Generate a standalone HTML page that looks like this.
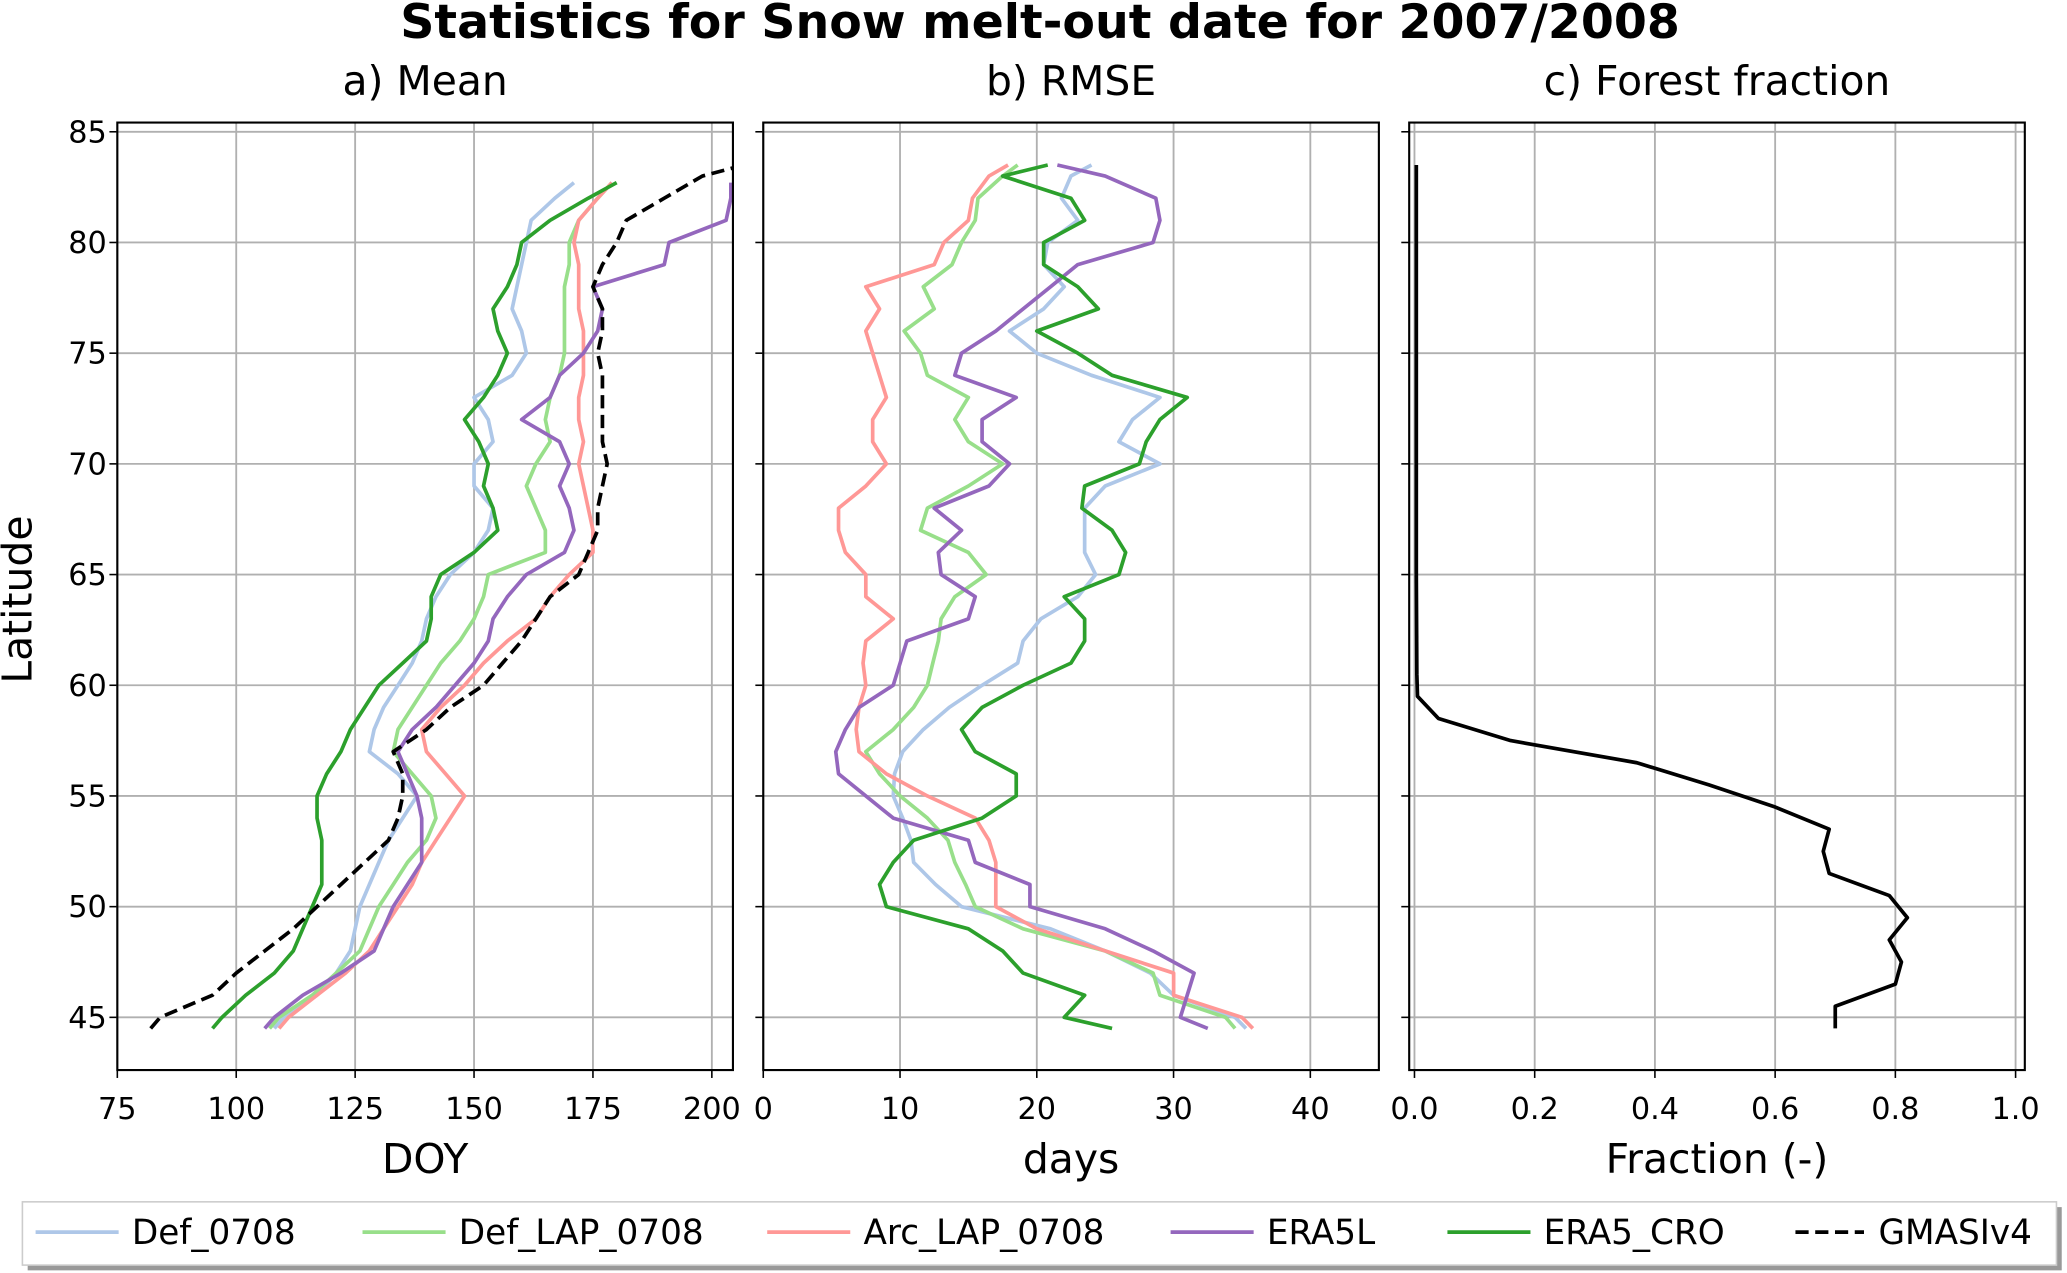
<!DOCTYPE html>
<html><head><meta charset="utf-8"><style>
html,body{margin:0;padding:0;background:#fff}
svg{display:block}
text{font-family:"DejaVu Sans","Liberation Sans",sans-serif;fill:#000}
</style></head><body>
<svg id="chart" width="2067" height="1273" viewBox="0 0 1568 966" preserveAspectRatio="none" xmlns="http://www.w3.org/2000/svg">
<text x="789" y="29" font-size="36" font-weight="bold" text-anchor="middle">Statistics for Snow melt-out date for 2007/2008</text>
<g id="g"></g>
</svg>
<script>
// ---- data ----
const latsA=[44.5,45,46,47,48,49,50,51,52,53,54,55,56,57,58,59,60,61,62,63,64,65,66,67,68,69,70,71,72,73,74,75,76,77,78,79,80,81,82,82.7];
const meanDef=[108,110,117,121,124,125,126,128,130,132,135,138,134,128,129,131,134,137,139,140,142,145,150,153,154,150,150,154,153,150,158,161,160,158,159,160,161,162,167,171];
const meanDefLAP=[107,109,116,121,126,128,130,133,136,140,142,141,137,133,134,137,140,143,147,150,152,153,165,165,163,161,163,166,165,166,168,169,169,169,169,170,170,172,176,179];
const meanArcLAP=[109,111,117,123,128,131,134,137,139,142,145,148,144,140,139,143,148,152,157,163,166,170,175,175,174,173,172,173,172,172,173,173,173,172,172,172,171,172,176,179];
const meanERA5L=[106,108,114,122,129,131,133,136,139,139,139,138,136,134,137,142,146,150,153,154,157,161,169,171,170,168,170,168,160,166,168,173,176,177,175,190,191,203,204,204];
const meanCRO=[95,97,102,108,112,114,116,118,118,118,117,117,119,122,124,127,130,135,140,141,141,143,150,155,154,152,153,151,148,152,155,157,155,154,157,159,160,166,174,180];
const latsG=[44.5,45,46,47,48,49,50,51,52,53,54,55,56,57,58,59,60,61,62,63,64,65,66,67,68,69,70,71,72,73,74,75,76,77,78,79,80,81,82,83,83.4];
const meanGMASI=[82,84,95,100,106,112,117,122,127,132,134,135,135,133,140,145,152,156,160,163,166,172,174,176,176,177,178,177,177,177,177,176,177,177,175,177,180,182,190,198,205];
const latsB=[44.5,45,46,47,48,49,50,51,52,53,54,55,56,57,58,59,60,61,62,63,64,65,66,67,68,69,70,71,72,73,74,75,76,77,78,79,80,81,82,83,83.5];
const rmseDef=[35.3,34.5,30,28.3,25,21,14.5,12.6,11,10.8,10.2,9.5,9.6,10.2,11.7,13.6,16,18.6,19,20.3,23,24.3,23.5,23.5,23.5,25,29,26,27,29,24,20,18,20.5,22,20.5,20.8,23,21.8,22.5,24];
const rmseDefLAP=[34.5,33.8,29,28.5,25,19,15.5,14.8,14,13.5,12,10,8.5,7.5,9.5,11,12,12.4,12.8,13,14,16.3,15,11.5,12,15,17.5,15,14,15,12,11.5,10.3,12.5,11.7,13.8,14.5,15.5,15.7,17.5,18.6];
const rmseArcLAP=[35.8,35,30,30,25,20,17,17,17,16.5,15.5,12,9,7,6.8,7,7.5,7.3,7.5,9.5,7.5,7.5,6,5.5,5.5,7.5,9,8,8,9,8.5,8,7.5,8.5,7.5,12.5,13.2,15,15.3,16.5,17.9];
const rmseERA5L=[32.5,30.5,31,31.5,28.5,25,19.5,19.5,15.5,15,9.5,7.5,5.5,5.3,6,7,9.5,10,10.5,15,15.5,13,12.8,14.5,12.5,16.5,18,16,16,18.5,14,14.5,17,19,21,23,28.5,29,28.7,25,21.5];
const rmseCRO=[25.5,22,23.5,19,17.5,15,9,8.5,9.5,11,16,18.5,18.5,15.5,14.5,16,19,22.5,23.5,23.5,22,26,26.5,25.5,23.3,23.5,27.5,28,29,31,25.5,23,20,24.5,23,20.5,20.5,23.5,22.5,17.5,20.8];
const latsC=[44.5,45.5,46.5,47.5,48.5,49.5,50.5,51.5,52.5,53.5,54.5,55.5,56.5,57.5,58.5,59.5,60.5,65,70,75,80,83.5];
const forest=[0.70,0.70,0.80,0.81,0.79,0.82,0.79,0.69,0.68,0.69,0.60,0.49,0.37,0.16,0.04,0.005,0.004,0.003,0.003,0.003,0.003,0.003];
const ticksA=[75,100,125,150,175,200];
const ticksB=[0,10,20,30,40];
const ticksC=[0,0.2,0.4,0.6,0.8,1.0];
const ticksC_lbl=["0.0","0.2","0.4","0.6","0.8","1.0"];
const ticksY=[45,50,55,60,65,70,75,80,85];

// ---- drawing ----
const NS="http://www.w3.org/2000/svg";
const G=document.getElementById('g');
function el(tag,attrs,parent){const e=document.createElementNS(NS,tag);for(const k in attrs)e.setAttribute(k,attrs[k]);(parent||G).appendChild(e);return e;}
const yTop=93,yBot=812;
const yS=lat=>100+(85-lat)*16.8;
function mkX(px0,v0,px1,v1){return v=>px0+(v-v0)*(px1-px0)/(v1-v0);}
const panels=[
 {name:'mean',x0:89,x1:556,sx:mkX(89,75,540,200),ticks:ticksA,lbls:ticksA.map(String),title:'a) Mean',xl:'DOY',ylab:true},
 {name:'rmse',x0:579,x1:1046,sx:mkX(579,0,994,40),ticks:ticksB,lbls:ticksB.map(String),title:'b) RMSE',xl:'days'},
 {name:'forest',x0:1069,x1:1536,sx:mkX(1073,0,1529,1),ticks:ticksC,lbls:ticksC_lbl,title:'c) Forest fraction',xl:'Fraction (-)'}
];
panels.forEach(p=>{
 const g=el('g',{});
 
 
 p.g=g;
 ticksY.forEach(t=>{
  const y=yS(t);
  const l=el('line',{x1:p.x0,x2:p.x1,y1:y,y2:y,stroke:'#b0b0b0','stroke-width':1.4},g);
  
  
  el('line',{x1:p.x0-6,x2:p.x0,y1:y,y2:y,stroke:'#000','stroke-width':1.2},g);
  if(p.ylab){const tx=el('text',{x:p.x0-8,y:y+8,'font-size':23,'text-anchor':'end'},g);tx.textContent=t;
   
   }
 });
 p.ticks.forEach((t,i)=>{
  const x=p.sx(t);
  const l=el('line',{x1:x,x2:x,y1:yTop,y2:yBot,stroke:'#b0b0b0','stroke-width':1.4},g);
  
  
  el('line',{x1:x,x2:x,y1:yBot,y2:yBot+6,stroke:'#000','stroke-width':1.2},g);
  const tx=el('text',{x:x,y:yBot+37,'font-size':23,'text-anchor':'middle'},g);tx.textContent=p.lbls[i];
  
  
 });
 const st=el('text',{x:(p.x0+p.x1)/2,y:72,'font-size':31,'text-anchor':'middle'},g);st.textContent=p.title;
 
 
 const xl=el('text',{x:(p.x0+p.x1)/2,y:890,'font-size':31,'text-anchor':'middle'},g);xl.textContent=p.xl;
 
 
 const cp=el('clipPath',{id:'c'+p.name},g);
 el('rect',{x:p.x0,y:yTop,width:p.x1-p.x0,height:yBot-yTop},cp);
});
function series(p,lats,vals,color,name,dash){
 const d=lats.map((la,i)=>(i?'L':'M')+p.sx(vals[i]).toFixed(1)+','+yS(la).toFixed(1)).join('');
 const a={d:d,fill:'none',stroke:color,'stroke-width':2.8,'clip-path':'url(#c'+p.name+')','stroke-linejoin':'round'};
 if(dash)a['stroke-dasharray']=dash;
 const path=el('path',a,p.g);
 
 
}
const C={def:'#aec7e8',lap:'#98df8a',arc:'#ff9896',era:'#9467bd',cro:'#2ca02c'};
const pa=panels[0],pb=panels[1],pc=panels[2];
series(pa,latsA,meanDef,C.def,'mean-def-0708-line');
series(pa,latsA,meanDefLAP,C.lap,'mean-def-lap-0708-line');
series(pa,latsA,meanArcLAP,C.arc,'mean-arc-lap-0708-line');
series(pa,latsA,meanERA5L,C.era,'mean-era5l-line');
series(pa,latsA,meanCRO,C.cro,'mean-era5-cro-line');
series(pa,latsG,meanGMASI,'#000','mean-gmasiv4-line','10,5');
series(pb,latsB,rmseDef,C.def,'rmse-def-0708-line');
series(pb,latsB,rmseDefLAP,C.lap,'rmse-def-lap-0708-line');
series(pb,latsB,rmseArcLAP,C.arc,'rmse-arc-lap-0708-line');
series(pb,latsB,rmseERA5L,C.era,'rmse-era5l-line');
series(pb,latsB,rmseCRO,C.cro,'rmse-era5-cro-line');
series(pc,latsC,forest,'#000','forest-fraction-line');
panels.forEach(p=>{
 const r=el('rect',{x:p.x0,y:yTop,width:p.x1-p.x0,height:yBot-yTop,fill:'none',stroke:'#000','stroke-width':1.6},p.g);
 
 
});
const yl=el('text',{x:0,y:0,'font-size':31,'text-anchor':'middle',transform:'translate(24,455) rotate(-90)'});
yl.textContent='Latitude';


// legend
const lg=el('g',{});


el('rect',{x:21,y:916,width:1543,height:48,fill:'#999'},lg);
el('rect',{x:17,y:912,width:1543,height:48,fill:'#fff',stroke:'#ccc','stroke-width':1.2},lg);
const entries=[['Def_0708',C.def,27,''],['Def_LAP_0708',C.lap,275,''],['Arc_LAP_0708',C.arc,582,''],['ERA5L',C.era,888,''],['ERA5_CRO',C.cro,1098,''],['GMASIv4','#000',1362,'10,5']];
entries.forEach(e=>{
 const eg=el('g',{},lg);
 
 
 const a={x1:e[2],x2:e[2]+(e[0]==='GMASIv4'?52:63),y1:935,y2:935,stroke:e[1],'stroke-width':2.8};
 if(e[3])a['stroke-dasharray']=e[3];
 el('line',a,eg);
 const t=el('text',{x:e[2]+(e[0]==='GMASIv4'?63:73),y:944,'font-size':26},eg);t.textContent=e[0];
});
</script>
</body></html>
